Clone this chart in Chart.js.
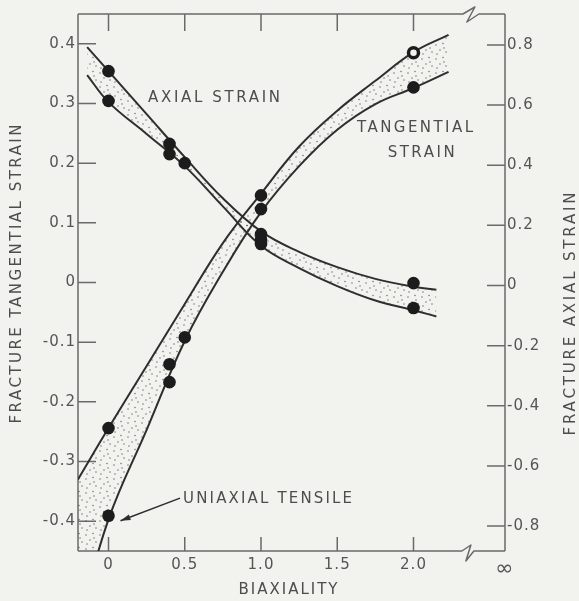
<!DOCTYPE html>
<html>
<head>
<meta charset="utf-8">
<style>
  html, body { margin: 0; padding: 0; background: #f2f2ef; }
</style>
<script src="https://cdn.jsdelivr.net/npm/chart.js@4.4.1/dist/chart.umd.min.js"></script>
</head>
<body>
<canvas id="strainChart" width="579" height="601"></canvas>
<script>
// tick positions; the last biaxiality tick is the "infinity" edge
const biaxTicks = [0, 0.5, 1.0, 1.5, 2.0, 2.6];
const tangTicks = [-0.4, -0.3, -0.2, -0.1, 0, 0.1, 0.2, 0.3, 0.4];
const axialTicks = [-0.8, -0.6, -0.4, -0.2, 0, 0.2, 0.4, 0.6, 0.8];

// measured fracture strains
const tangBiax = [0, 0, 0.4, 0.4, 0.5, 1.0, 1.0, 2.0, 2.0];
const tangStrain = [-0.244, -0.391, -0.137, -0.167, -0.092, 0.146, 0.123, 0.385, 0.327];
const axialBiax = [0, 0, 0.4, 0.4, 0.5, 1.0, 1.0, 1.0, 2.0, 2.0];
const axialStrain = [0.713, 0.614, 0.471, 0.437, 0.407, 0.171, 0.153, 0.138, 0.008, -0.075];

// scatter band limits
const tangBandBiax = [-0.2, 0, 0.25, 0.5, 0.75, 1.0, 1.25, 1.5, 1.75, 2.0, 2.23];
const tangUpper = [-0.33, -0.244, -0.140, -0.036, 0.066, 0.149, 0.228, 0.288, 0.338, 0.386, 0.415];
const tangLower = [-0.575, -0.397, -0.247, -0.098, 0.018, 0.118, 0.195, 0.256, 0.299, 0.326, 0.353];
const axialBandBiax = [-0.14, 0, 0.25, 0.5, 0.75, 1.0, 1.25, 1.5, 1.75, 2.0, 2.15];
const axialUpper = [0.793, 0.713, 0.570, 0.427, 0.290, 0.180, 0.112, 0.061, 0.022, -0.004, -0.014];
const axialLower = [0.700, 0.610, 0.504, 0.397, 0.263, 0.132, 0.058, -0.002, -0.050, -0.082, -0.103];

const hollowPoint = 7; // tangential point drawn as a ring
const breakAt = 2.35;

const paper = '#f2f2ef';
const ink = '#1c1c1c';
const lineInk = '#2e2e2e';
const frameInk = '#6a6a6a';
const textInk = '#4d4d4d';
const font = '"DejaVu Sans", "Liberation Sans", sans-serif';

const xy = (xs, ys) => xs.map((x, i) => ({ x, y: ys[i] }));

// stipple used between the band limits
function makeStipple() {
  const c = document.createElement('canvas');
  c.width = 14; c.height = 14;
  const g = c.getContext('2d');
  g.fillStyle = 'rgba(70,70,70,0.75)';
  [[2, 3], [9, 1.5], [6, 8], [12, 10], [3, 12], [10, 6]].forEach(([px, py]) => {
    g.beginPath(); g.arc(px, py, 0.75, 0, Math.PI * 2); g.fill();
  });
  return g.createPattern(c, 'repeat');
}
const stipple = makeStipple();

function spacedText(ctx, text, cx, cy, width) {
  ctx.letterSpacing = '0px';
  const w = ctx.measureText(text).width;
  const gap = Math.max(0, (width - w) / (text.length - 1));
  ctx.letterSpacing = gap + 'px';
  ctx.textAlign = 'left';
  ctx.textBaseline = 'middle';
  ctx.fillText(text, cx - width / 2, cy);
}

// labels inside the plot, anchored in data units (x, left-axis y)
const notes = [
  { text: 'AXIAL STRAIN', x: 0.692, y: 0.309, width: 132 },
  { text: 'TANGENTIAL', x: 2.01, y: 0.259, width: 116 },
  { text: 'STRAIN', x: 2.05, y: 0.217, width: 67 },
  { text: 'UNIAXIAL TENSILE', x: 1.043, y: -0.363, width: 169 }
];

const framePlugin = {
  id: 'frame',
  beforeDraw(chart) {
    const { ctx, width, height } = chart;
    ctx.save();
    ctx.fillStyle = paper;
    ctx.fillRect(0, 0, width, height);
    ctx.restore();
    ctx.letterSpacing = '1px';
  },
  beforeDatasetsDraw(chart) {
    const { ctx, chartArea: a, scales } = chart;
    const { x, y, y2 } = scales;
    const brk = x.getPixelForValue(breakAt);
    ctx.save();
    ctx.strokeStyle = frameInk;
    ctx.lineWidth = 1.5;
    ctx.lineJoin = 'round';
    ctx.beginPath();
    ctx.moveTo(a.left, a.top); ctx.lineTo(a.left, a.bottom);
    ctx.moveTo(a.right, a.top); ctx.lineTo(a.right, a.bottom);
    // top edge with break
    ctx.moveTo(a.left, a.top); ctx.lineTo(brk - 4, a.top);
    ctx.lineTo(brk + 8, a.top - 7); ctx.lineTo(brk, a.top + 8); ctx.lineTo(brk + 12, a.top);
    ctx.lineTo(a.right, a.top);
    // bottom edge with break
    ctx.moveTo(a.left, a.bottom); ctx.lineTo(brk - 5, a.bottom);
    ctx.lineTo(brk + 4, a.bottom - 6); ctx.lineTo(brk - 1, a.bottom + 10); ctx.lineTo(brk + 7, a.bottom);
    ctx.lineTo(a.right, a.bottom);
    // inward tick marks
    y.ticks.forEach(t => {
      const py = y.getPixelForValue(t.value);
      ctx.moveTo(a.left, py); ctx.lineTo(a.left + 18, py);
    });
    y2.ticks.forEach(t => {
      const py = y2.getPixelForValue(t.value);
      ctx.moveTo(a.right - 18, py); ctx.lineTo(a.right, py);
    });
    x.ticks.forEach(t => {
      if (t.value >= breakAt) return;
      const px = x.getPixelForValue(t.value);
      ctx.moveTo(px, a.top); ctx.lineTo(px, a.top + 17);
      ctx.moveTo(px, a.bottom); ctx.lineTo(px, a.bottom - 14);
    });
    ctx.stroke();
    ctx.restore();
  },
  afterDraw(chart) {
    const { ctx, scales } = chart;
    const { x, y } = scales;
    ctx.save();
    ctx.fillStyle = textInk;
    ctx.font = '15px ' + font;
    notes.forEach(n => spacedText(ctx, n.text, x.getPixelForValue(n.x), y.getPixelForValue(n.y), n.width));

    // leader from the uniaxial label to its point
    const lab = notes[3];
    const sx = x.getPixelForValue(lab.x) - lab.width / 2 - 3;
    const sy = y.getPixelForValue(lab.y) - 1;
    const ex = x.getPixelForValue(tangBiax[1]) + 12;
    const ey = y.getPixelForValue(tangStrain[1]) + 5;
    const ang = Math.atan2(ey - sy, ex - sx);
    ctx.strokeStyle = lineInk;
    ctx.lineWidth = 1.5;
    ctx.beginPath(); ctx.moveTo(sx, sy); ctx.lineTo(ex, ey); ctx.stroke();
    ctx.fillStyle = lineInk;
    ctx.beginPath();
    ctx.moveTo(ex, ey);
    ctx.lineTo(ex - 10 * Math.cos(ang) + 3 * Math.sin(ang), ey - 10 * Math.sin(ang) - 3 * Math.cos(ang));
    ctx.lineTo(ex - 10 * Math.cos(ang) - 3 * Math.sin(ang), ey - 10 * Math.sin(ang) + 3 * Math.cos(ang));
    ctx.closePath(); ctx.fill();

    // axis titles
    ctx.fillStyle = textInk;
    ctx.font = '15px ' + font;
    spacedText(ctx, 'BIAXIALITY', 288, 590, 99);
    ctx.save();
    ctx.translate(17, 274); ctx.rotate(-Math.PI / 2);
    spacedText(ctx, 'FRACTURE TANGENTIAL STRAIN', 0, 0, 299);
    ctx.restore();
    ctx.save();
    ctx.translate(571, 314); ctx.rotate(-Math.PI / 2);
    spacedText(ctx, 'FRACTURE AXIAL STRAIN', 0, 0, 243);
    ctx.restore();
    ctx.restore();
    ctx.letterSpacing = '0px';
  }
};

const fmt = v => (Math.abs(v) < 1e-9 ? '0' : v.toFixed(1));
const tickFont = { family: font, size: 15 };

const bandLine = (xs, ys, fill) => ({
  data: xy(xs, ys),
  showLine: true,
  pointRadius: 0,
  borderColor: lineInk,
  borderWidth: 2,
  tension: 0.4,
  backgroundColor: stipple,
  fill: fill ? { target: '+1', above: stipple, below: stipple } : false
});

new Chart(document.getElementById('strainChart'), {
  type: 'scatter',
  data: {
    datasets: [
      {
        data: xy(tangBiax, tangStrain),
        yAxisID: 'y',
        pointRadius: tangStrain.map((_, i) => (i === hollowPoint ? 5 : 6.3)),
        pointBackgroundColor: tangStrain.map((_, i) => (i === hollowPoint ? paper : ink)),
        pointBorderColor: ink,
        pointBorderWidth: tangStrain.map((_, i) => (i === hollowPoint ? 3.5 : 0))
      },
      {
        data: xy(axialBiax, axialStrain),
        yAxisID: 'y2',
        pointRadius: 6.3,
        pointBackgroundColor: ink,
        pointBorderWidth: 0
      },
      Object.assign(bandLine(tangBandBiax, tangUpper, true), { yAxisID: 'y' }),
      Object.assign(bandLine(tangBandBiax, tangLower, false), { yAxisID: 'y' }),
      Object.assign(bandLine(axialBandBiax, axialUpper, true), { yAxisID: 'y2' }),
      Object.assign(bandLine(axialBandBiax, axialLower, false), { yAxisID: 'y2' })
    ]
  },
  options: {
    responsive: false,
    animation: false,
    events: [],
    layout: { padding: { top: 14 } },
    plugins: {
      legend: { display: false },
      tooltip: { enabled: false }
    },
    scales: {
      x: {
        type: 'linear',
        position: 'bottom',
        min: -0.2,
        max: 2.6,
        afterBuildTicks: s => { s.ticks = biaxTicks.map(v => ({ value: v })); },
        afterFit: s => { s.height = 50; },
        grid: { display: false, drawTicks: false },
        border: { display: false },
        ticks: {
          font: c => (c.tick && c.tick.value >= breakAt ? { family: font, size: 22 } : tickFont),
          color: '#555',
          padding: 5,
          maxRotation: 0,
          callback: v => (v >= breakAt ? '\u221E' : fmt(v))
        }
      },
      y: {
        type: 'linear',
        position: 'left',
        min: -0.45,
        max: 0.45,
        afterBuildTicks: s => { s.ticks = tangTicks.map(v => ({ value: v })); },
        afterFit: s => { s.width = 78; },
        grid: { display: false, drawTicks: false },
        border: { display: false },
        ticks: { font: tickFont, color: '#555', padding: 2, callback: fmt }
      },
      y2: {
        type: 'linear',
        position: 'right',
        min: -0.883,
        max: 0.903,
        afterBuildTicks: s => { s.ticks = axialTicks.map(v => ({ value: v })); },
        afterFit: s => { s.width = 74; },
        grid: { display: false, drawTicks: false },
        border: { display: false },
        ticks: { font: tickFont, color: '#555', padding: 2, callback: fmt }
      }
    }
  },
  plugins: [framePlugin]
});
</script>
</body>
</html>
